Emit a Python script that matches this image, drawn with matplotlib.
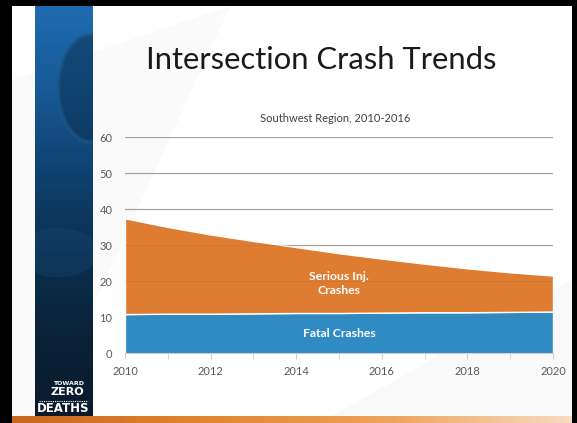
import numpy as np
import matplotlib.pyplot as plt
from matplotlib.patches import Rectangle, Ellipse
from matplotlib.colors import LinearSegmentedColormap

years = [2010, 2011, 2012, 2013, 2014, 2015, 2016, 2017, 2018, 2019, 2020]
fatal = [10.9, 11.0, 11.0, 11.1, 11.2, 11.2, 11.3, 11.4, 11.4, 11.5, 11.6]
total = [37.5, 35.1, 33.0, 31.2, 29.5, 27.8, 26.3, 24.9, 23.6, 22.5, 21.6]
serious = [t - f for t, f in zip(total, fatal)]

title = "Intersection Crash Trends"
subtitle = "Southwest Region, 2010-2016"
yticks = [0, 10, 20, 30, 40, 50, 60]
xticks = [2010, 2012, 2014, 2016, 2018, 2020]

W, H = 577, 423
fig = plt.figure(figsize=(W / 100, H / 100), dpi=100)
fig.patch.set_facecolor("white")

def px(x0, y0, x1, y1):
    # pixel box (top-left origin) -> figure fraction rect
    return [x0 / W, 1 - y1 / H, (x1 - x0) / W, (y1 - y0) / H]

# slide background, very faint diagonal shading
bg = fig.add_axes([0, 0, 1, 1], zorder=-10)
bg.set_xlim(0, W)
bg.set_ylim(H, 0)
bg.axis("off")
bg.fill([12, 230, 40, 12], [80, 6, 423, 423], color="#fafafa", lw=0)
bg.fill([320, 572, 572, 440], [423, 280, 423, 423], color="#f9f9f9", lw=0)

# left blue band
band = fig.add_axes(px(35, 6, 93, 417), zorder=-5)
grad = np.linspace(0, 1, 200).reshape(-1, 1)
cmap = LinearSegmentedColormap.from_list(
    "band", ["#1f6bb2", "#175a97", "#0f4270", "#0b3050", "#0a2339", "#0a1a2b"])
band.imshow(grad, aspect="auto", cmap=cmap, extent=[0, 1, 1, 0])
band.add_patch(Ellipse((0.95, 0.2), 1.1, 0.26, fc="#0b2d4a", ec="#1f5a88", lw=3, alpha=0.5))
band.add_patch(Ellipse((0.4, 0.6), 1.4, 0.12, fc="#2a6ea6", alpha=0.15, lw=0))
band.set_xlim(0, 1)
band.set_ylim(1, 0)
band.axis("off")

# logo
fig.text(84 / W, 1 - 383 / H, "TOWARD", color="white", fontsize=4.5, fontweight="bold",
         ha="right", va="center", family="DejaVu Sans")
fig.text(84 / W, 1 - 392 / H, "ZERO", color="white", fontsize=8, fontweight="bold",
         ha="right", va="center", family="DejaVu Sans")
fig.add_artist(plt.Line2D([39 / W, 88 / W], [1 - 400.5 / H, 1 - 400.5 / H], color="white",
                          lw=0.8, ls=(0, (1, 1))))
fig.text(63 / W, 1 - 408 / H, "DEATHS", color="white", fontsize=8.5, fontweight="bold",
         ha="center", va="center", family="DejaVu Sans")

# bottom orange bar
bar = fig.add_axes(px(12, 416, 572, 423), zorder=-4)
hg = np.linspace(0, 1, 300).reshape(1, -1)
bar.imshow(hg, aspect="auto",
           cmap=LinearSegmentedColormap.from_list("bar", ["#c9661f", "#e0852f", "#eea25a", "#f8dcc0"]),
           extent=[0, 1, 0, 1])
bar.axis("off")

# black frame
for r in [px(0, 0, 12, 423), px(0, 0, 577, 6), px(572, 0, 577, 423)]:
    fig.add_artist(Rectangle((r[0], r[1]), r[2], r[3], transform=fig.transFigure, fc="black", lw=0))

# titles
fig.text(321 / W, 1 - 60 / H, title, fontsize=22.3, color="#1a1a1a", ha="center", va="center",
         family="Lato")
fig.text(335 / W, 1 - 118 / H, subtitle, fontsize=8, color="#404040", ha="center", va="center",
         family="Lato")

# chart
ax = fig.add_axes(px(125, 137.3, 553, 353.3))
ax.patch.set_alpha(0)
ax.stackplot(years, fatal, serious, colors=["#2f8bc4", "#de7c31"],
             edgecolor="white", linewidth=1.0, zorder=2)
ax.set_xlim(2010, 2020)
ax.set_ylim(0, 60)
ax.set_yticks(yticks)
ax.set_xticks(xticks)
ax.set_xticks(years, minor=True)
for y in yticks[1:]:
    ax.axhline(y, color="#b0b0b0", lw=0.9, zorder=1)
    ax.axhline(y, color="#8a5a30", lw=0.6, alpha=0.2, zorder=3)
for s in ["top", "right", "left"]:
    ax.spines[s].set_visible(False)
ax.spines["bottom"].set_color("#cfcfcf")
ax.tick_params(axis="y", length=0, labelsize=8, labelcolor="#595959", pad=9)
ax.tick_params(axis="x", which="both", length=4, color="#cfcfcf", labelsize=8,
               labelcolor="#595959", pad=5)
for lab in ax.get_xticklabels() + ax.get_yticklabels():
    lab.set_family("Lato")

ax.text(2015, 19.4, "Serious Inj.\nCrashes", color="white", fontsize=8.8, fontweight="bold",
        ha="center", va="center", family="Lato", zorder=5, linespacing=1.25)
ax.text(2015, 5.4, "Fatal Crashes", color="white", fontsize=8.8, fontweight="bold",
        ha="center", va="center", family="Lato", zorder=5)

fig.savefig("out.png", dpi=100)
